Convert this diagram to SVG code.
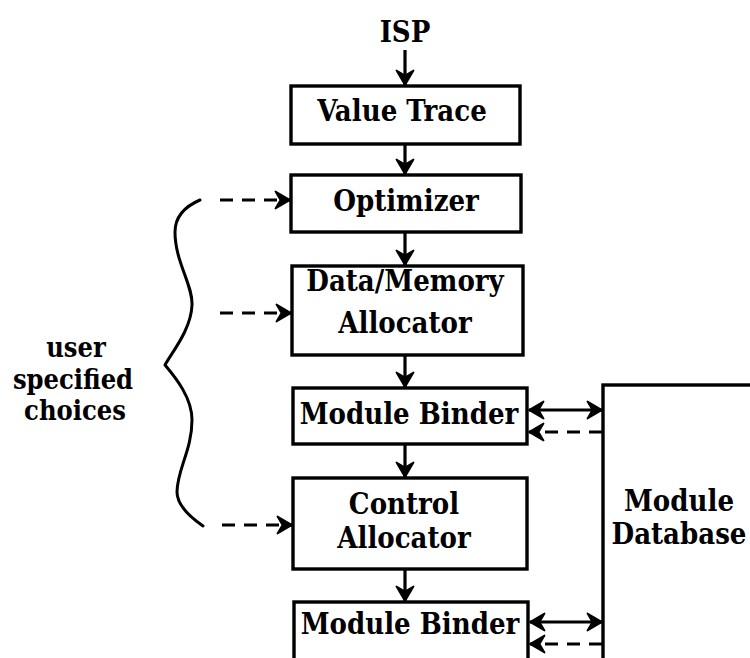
<svg xmlns="http://www.w3.org/2000/svg" width="750" height="658" viewBox="0 0 750 658">
  <style>
    .box { fill: #fff; stroke: #000; stroke-width: 3.4; }
    .lbl { font-family: "DejaVu Serif Condensed", "DejaVu Serif", serif; font-stretch: condensed; font-weight: bold; font-size: 29px; fill: #000; text-anchor: middle; }
    .side { font-size: 27px; }
    .flow { fill: none; stroke: #000; stroke-width: 3.2; }
    .dash { fill: none; stroke: #000; stroke-width: 2.8; stroke-dasharray: 13 9; }
    .brace { fill: none; stroke: #000; stroke-width: 3; stroke-linecap: round; stroke-linejoin: round; }
  </style>
  <defs>
    <marker id="head" viewBox="0 0 17 20" refX="16" refY="10" markerWidth="17" markerHeight="20" markerUnits="userSpaceOnUse" orient="auto-start-reverse">
      <path d="M1.5,1.5 L16,10 L1.5,18.5 L6.5,10 Z" fill="#000" stroke="#000" stroke-width="1.8" stroke-linejoin="round"/>
    </marker>
  </defs>
  <rect width="750" height="658" fill="#fff"/>

  <text class="lbl" x="405" y="42">ISP</text>

  <g id="value-trace">
    <rect class="box" x="291" y="86" width="229" height="58"/>
    <text class="lbl" x="402" y="121">Value Trace</text>
  </g>
  <g id="optimizer">
    <rect class="box" x="291" y="175" width="230" height="57"/>
    <text class="lbl" x="406" y="211">Optimizer</text>
  </g>
  <g id="data-memory-allocator">
    <rect class="box" x="292" y="266" width="231" height="89"/>
    <text class="lbl" x="405" y="291">Data/Memory</text>
    <text class="lbl" x="405" y="333">Allocator</text>
  </g>
  <g id="module-binder-1">
    <rect class="box" x="293" y="388" width="234" height="56"/>
    <text class="lbl" x="409" y="424">Module Binder</text>
  </g>
  <g id="control-allocator">
    <rect class="box" x="293" y="478" width="234" height="91"/>
    <text class="lbl" x="404" y="514">Control</text>
    <text class="lbl" x="404" y="548">Allocator</text>
  </g>
  <g id="module-binder-2">
    <rect class="box" x="294" y="602" width="234" height="70"/>
    <text class="lbl" x="410" y="634">Module Binder</text>
  </g>
  <g id="module-database">
    <rect class="box" x="603" y="385" width="170" height="300"/>
    <text class="lbl" x="679" y="511">Module</text>
    <text class="lbl" x="679" y="544">Database</text>
  </g>
  <g id="user-choices">
    <path class="brace" d="M200,200 C186,206 175,215 175,232 C175,262 193,285 192,305 C191,330 172,352 165,365 C176,378 192,398 192,420 C192,450 177,470 177,492 C177,505 190,517 203,526"/>
    <text class="lbl side" x="76" y="357">user</text>
    <text class="lbl side" x="73" y="389">specified</text>
    <text class="lbl side" x="75" y="420">choices</text>
  </g>

  <g id="connectors">
    <line class="flow" x1="405" y1="50" x2="405" y2="85" marker-end="url(#head)"/>
    <line class="flow" x1="405" y1="145" x2="405" y2="174" marker-end="url(#head)"/>
    <line class="flow" x1="405" y1="233" x2="405" y2="265" marker-end="url(#head)"/>
    <line class="flow" x1="405" y1="356" x2="405" y2="387" marker-end="url(#head)"/>
    <line class="flow" x1="405" y1="445" x2="405" y2="477" marker-end="url(#head)"/>
    <line class="flow" x1="405" y1="570" x2="405" y2="601" marker-end="url(#head)"/>

    <line class="dash" x1="220" y1="200" x2="290" y2="200" marker-end="url(#head)"/>
    <line class="dash" x1="220" y1="313" x2="291" y2="313" marker-end="url(#head)"/>
    <line class="dash" x1="222" y1="525" x2="292" y2="525" marker-end="url(#head)"/>

    <line class="flow" x1="529" y1="410" x2="602" y2="410" marker-start="url(#head)" marker-end="url(#head)"/>
    <line class="dash" x1="602" y1="432" x2="529" y2="432" marker-end="url(#head)"/>
    <line class="flow" x1="530" y1="622" x2="602" y2="622" marker-start="url(#head)" marker-end="url(#head)"/>
    <line class="dash" x1="602" y1="644" x2="530" y2="644" marker-end="url(#head)"/>
  </g>
</svg>
